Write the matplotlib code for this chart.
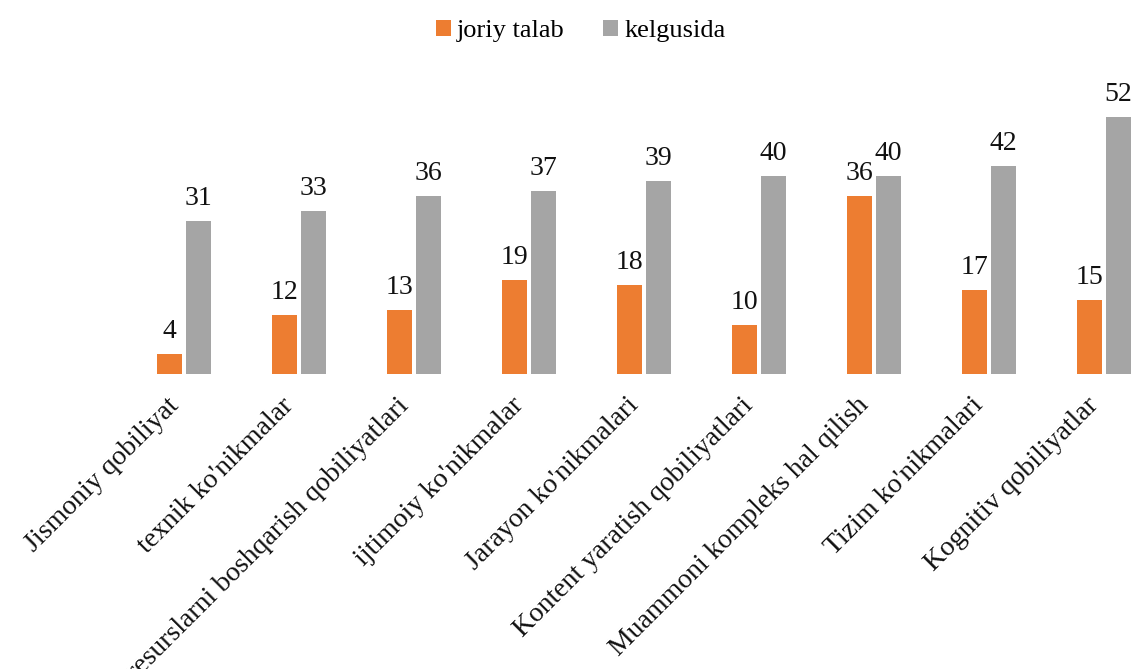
import matplotlib.pyplot as plt
import numpy as np

# Ma'lumotlar
categories = ["Jismoniy qobiliyat", "texnik ko'nikmalar",
              "resurslarni boshqarish qobiliyatlari", "ijtimoiy ko'nikmalar",
              "Jarayon ko'nikmalari", "Kontent yaratish qobiliyatlari",
              "Muammoni kompleks hal qilish", "Tizim ko'nikmalari",
              "Kognitiv qobiliyatlar"]
joriy = [4, 12, 13, 19, 18, 10, 36, 17, 15]
kelgusida = [31, 33, 36, 37, 39, 40, 40, 42, 52]

plt.rcParams['font.family'] = ['Liberation Serif', 'DejaVu Serif']

fig = plt.figure(figsize=(11.32, 6.69), dpi=100)
ax = fig.add_axes([0, 295 / 669, 1, 374 / 669])

x = np.arange(len(categories))
w = 0.21
gap = 0.043
b1 = ax.bar(x - (w + gap) / 2, joriy, w, color='#ED7D31', label='joriy talab')
b2 = ax.bar(x + (w + gap) / 2, kelgusida, w, color='#A5A5A5', label='kelgusida')

for bars in (b1, b2):
    ax.bar_label(bars, padding=7, fontsize=20, color='#111111')

ax.set_xlim(-184 / 115, (1132 - 184) / 115)
ax.set_ylim(0, 374 / 4.95)
for s in ax.spines.values():
    s.set_visible(False)
ax.set_yticks([])
ax.set_xticks(x - 0.08)
ax.set_xticklabels(categories, rotation=45, ha='right', va='center',
                   rotation_mode='anchor', fontsize=20, color='#111111')
ax.tick_params(axis='x', length=0, pad=20)

fig.legend(loc='upper center', bbox_to_anchor=(0.513, 1.006), ncol=2,
           frameon=False, fontsize=19, handlelength=0.57, handleheight=0.57,
           handletextpad=0.23, columnspacing=1.45)

fig.savefig('out.png', dpi=100)
